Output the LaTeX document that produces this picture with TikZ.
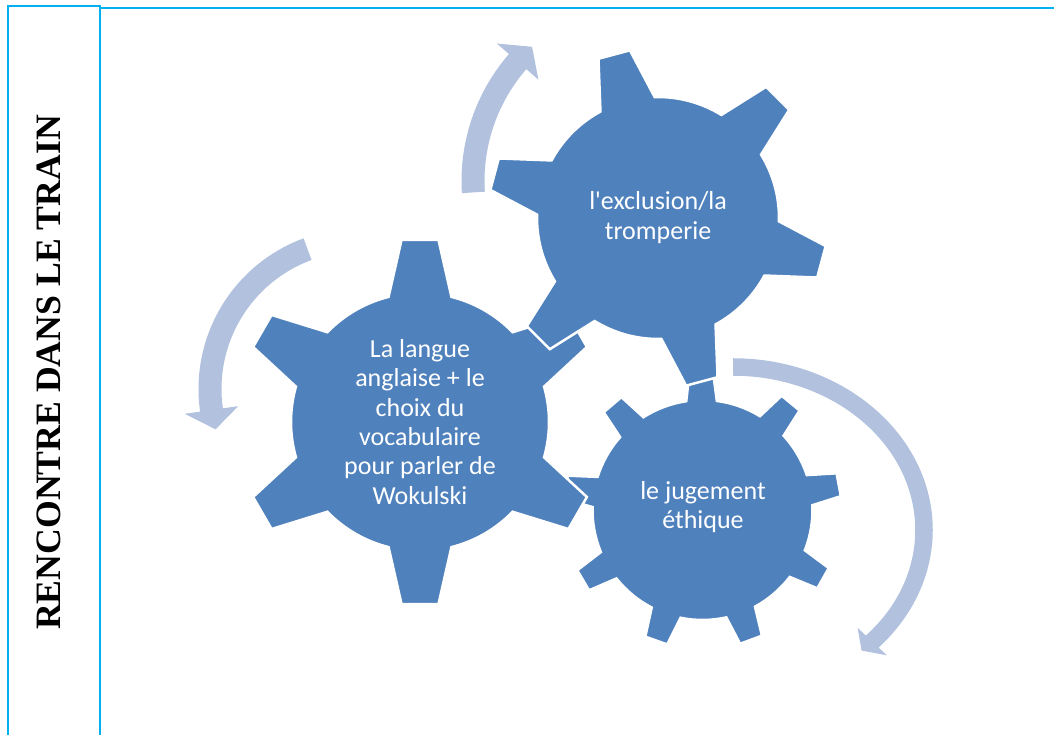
\documentclass[tikz,border=0pt]{standalone}
\usepackage{fontspec}
\setmainfont{Carlito}[Ligatures=TeXOff]
\newfontfamily\titlefont{Liberation Serif}
\definecolor{gearblue}{RGB}{79,129,189}
\definecolor{arrowblue}{RGB}{177,193,222}
\definecolor{framecyan}{RGB}{0,176,240}
\newcommand{\gearshape}[8]{%
\begin{scope}[shift={(#1,#2)}]
\pgfmathsetmacro{\gstep}{360/#3}
\filldraw[gear] ({#4-#7}:#5) \foreach \i in {1,...,#3} {
  -- ({#4+(\i-1)*\gstep-#8}:#6) -- ({#4+(\i-1)*\gstep+#8}:#6) -- ({#4+(\i-1)*\gstep+#7}:#5)
  arc[start angle={#4+(\i-1)*\gstep+#7}, end angle={#4+\i*\gstep-#7}, radius=#5]
} -- cycle;
\end{scope}}
\newcommand{\arcarrow}[9]{%
\begin{scope}[shift={(#1,#2)}]
\fill[arrowshape] ({#7}:{#3+#5/2} and {#4+#5/2})
  arc[start angle={#7}, end angle={#8}, x radius={#3+#5/2}, y radius={#4+#5/2}]
  -- ({#8}:{#3+#6/2} and {#4+#6/2}) -- ({#9}:{#3} and {#4})
  -- ({#8}:{#3-#6/2} and {#4-#6/2}) -- ({#8}:{#3-#5/2} and {#4-#5/2})
  arc[start angle={#8}, end angle={#7}, x radius={#3-#5/2}, y radius={#4-#5/2}]
  -- cycle;
\end{scope}}
\begin{document}
\begin{tikzpicture}[x=1pt,y=1pt,
  gear/.style={fill=gearblue, draw=white, line width=2.5pt, line join=miter},
  arrowshape/.style={fill=arrowblue},
  frameline/.style={draw=framecyan, line width=1.8pt},
  gtext/.style={text=white, align=center, font=\fontsize{26}{29.3}\selectfont, inner sep=0pt},
  titletext/.style={font=\titlefont\bfseries\fontsize{35.7}{40}\selectfont, inner sep=0pt, rotate=90, anchor=base}]
\useasboundingbox (0,0) rectangle (1054,735);
% frame
\draw[frameline] (7.8,0) -- (7.8,728.7) -- (100,728.7) -- (100,0);
\draw[frameline] (100,727.2) -- (1054,727.2);
\node[titletext] (title) at (60,362.5) {RENCONTRE DANS LE TRAIN};
% arrows
\arcarrow{655}{554}{182}{182}{23}{55}{183.6}{139}{132.5}
\arcarrow{359}{346}{149}{149}{23}{54}{110.2}{188.1}{195.7}
\arcarrow{733}{205}{191}{163}{17.5}{40}{90}{-43.2}{-47.7}
% gears
\gearshape{702.5}{225}{9}{10.5}{110}{139}{8}{4.8}
\gearshape{420}{313}{6}{90}{129}{183}{14.1}{5.8}
\gearshape{658}{517}{6}{45}{121}{170}{13.4}{5.5}
% texts
\node[gtext] (g1) at (420,313) {La langue\\anglaise + le\\choix du\\vocabulaire\\pour parler de\\Wokulski};
\node[gtext] (g2) at (658,517.5) {l'exclusion/la\\tromperie};
\node[gtext] (g3) at (703,228) {le jugement\\éthique};
\end{tikzpicture}
\end{document}
